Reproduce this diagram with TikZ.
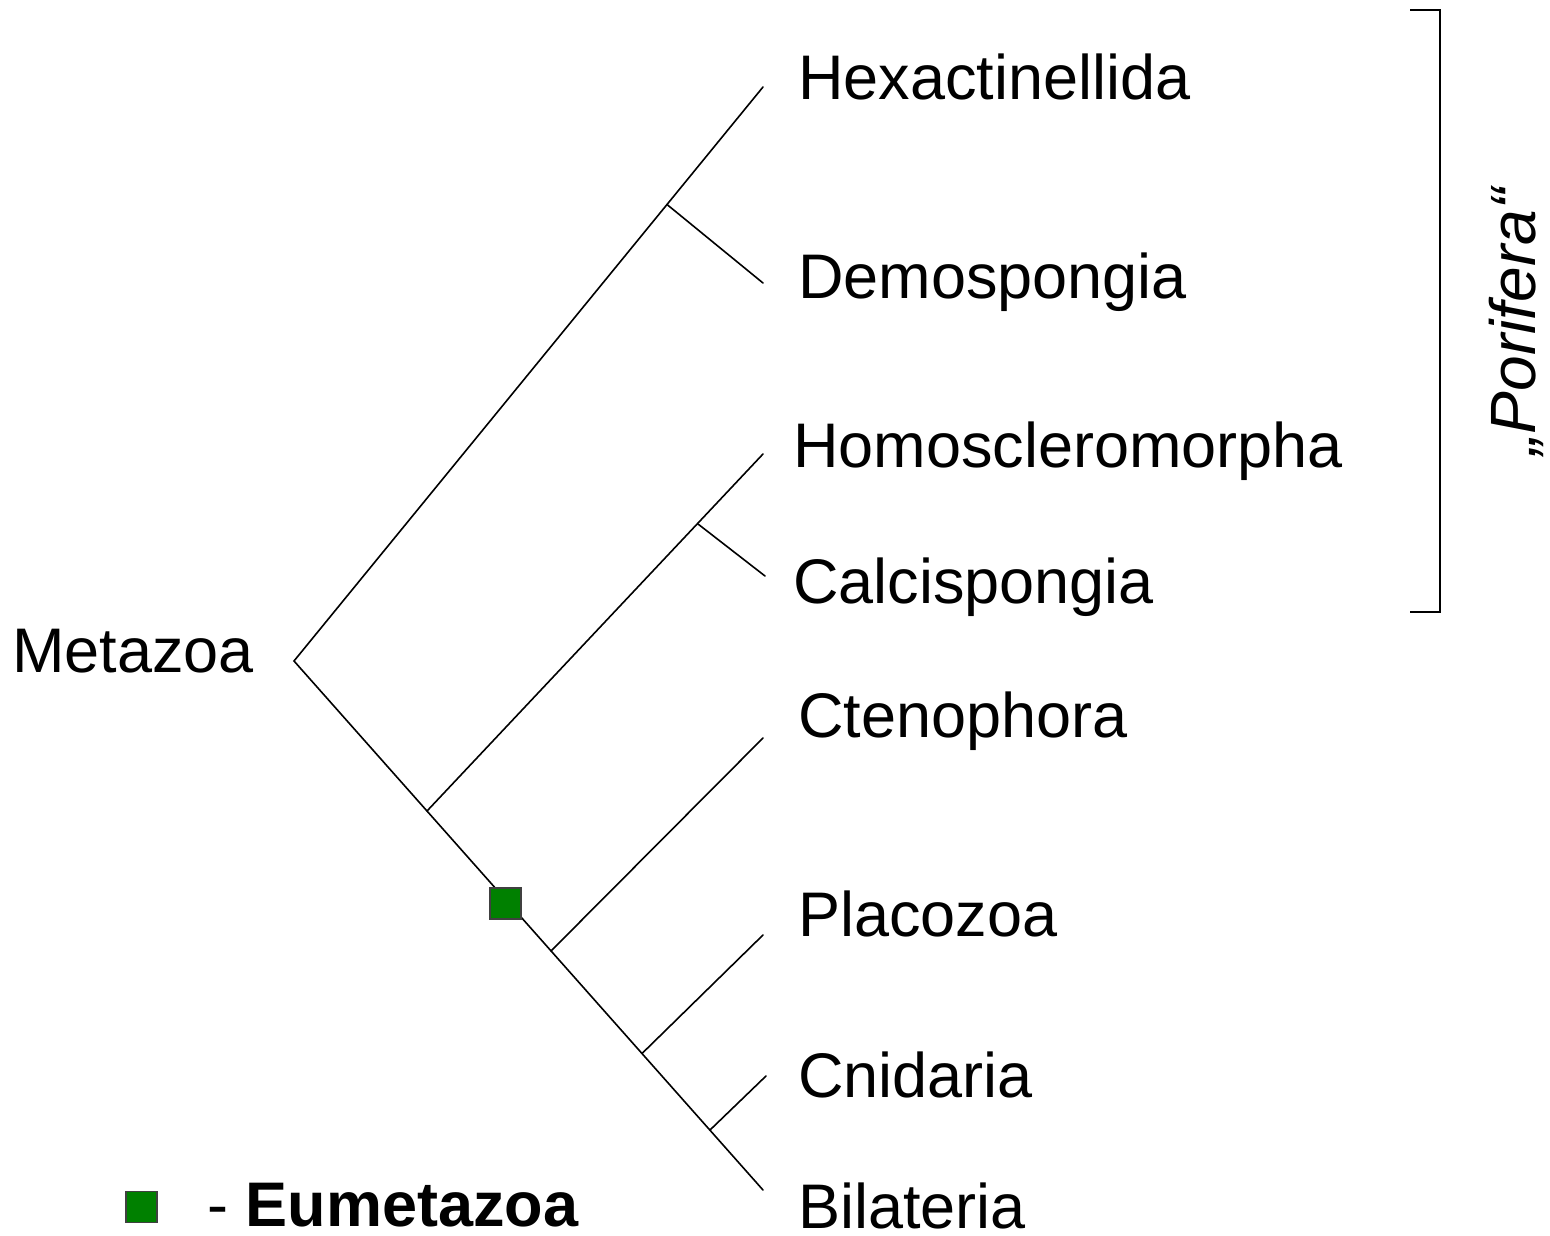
\documentclass[tikz,border=0pt]{standalone}
\usepackage{fontspec}
\setmainfont{Liberation Sans}
\begin{document}
\begin{tikzpicture}[x=1pt,y=-1pt,
  branch/.style={line width=1.6pt, line cap=round},
  taxon/.style={anchor=base west, inner sep=0pt, font=\fontsize{63}{75}\selectfont},
  marker/.style={draw=black!75, line width=1.2pt, fill={rgb,255:red,0;green,128;blue,0}, minimum size=31pt, inner sep=0pt}]
\useasboundingbox (0,0) rectangle (1550,1236);
% internal nodes and tips
\coordinate (root) at (294,661);
\coordinate (tHex) at (763,87);
\coordinate (nHD) at (667,204.5);
\coordinate (tDem) at (763,283);
\coordinate (tBil) at (763,1190);
\coordinate (nHC) at (427,811);
\coordinate (tHom) at (763,454);
\coordinate (nCal) at (698,524);
\coordinate (tCal) at (765,576);
\coordinate (nCte) at (551,951);
\coordinate (tCte) at (763,738);
\coordinate (nPla) at (642,1053.5);
\coordinate (tPla) at (763,935);
\coordinate (nCni) at (710,1130);
\coordinate (tCni) at (766,1076);
% branches
\draw[branch] (tHex) -- (root) -- (tBil);
\draw[branch] (nHD) -- (tDem);
\draw[branch] (nHC) -- (tHom);
\draw[branch] (nCal) -- (tCal);
\draw[branch] (nCte) -- (tCte);
\draw[branch] (nPla) -- (tPla);
\draw[branch] (nCni) -- (tCni);
% marker
\node[marker] (eum) at (505.5,903.5) {};
% labels
\node[taxon] (lHex) at (798,100) {Hexactinellida};
\node[taxon] (lDem) at (798,298) {Demospongia};
\node[taxon] (lHom) at (793,467) {Homoscleromorpha};
\node[taxon] (lCal) at (793,603) {Calcispongia};
\node[taxon] (lMet) at (12,672) {Metazoa};
\node[taxon] (lCte) at (798,737) {Ctenophora};
\node[taxon] (lPla) at (798,936) {Placozoa};
\node[taxon] (lCni) at (798,1097) {Cnidaria};
\node[taxon, text depth=0pt] (lBil) at (798,1228) {Bilateria};
% bracket
\coordinate (bTop) at (1410,10);
\coordinate (bBot) at (1410,612);
\draw[line width=1.6pt] (bTop) -- ++(30,0) |- (bBot);
\node[anchor=base, inner sep=0pt, rotate=90, font=\fontsize{64}{75}\selectfont\itshape] (por) at (1535,322) {„Porifera“};
% legend
\node[marker] (legsq) at (141.5,1207) {};
\node[taxon, text depth=0pt] (legtxt) at (207,1226) {- \textbf{Eumetazoa}};
\end{tikzpicture}
\end{document}
